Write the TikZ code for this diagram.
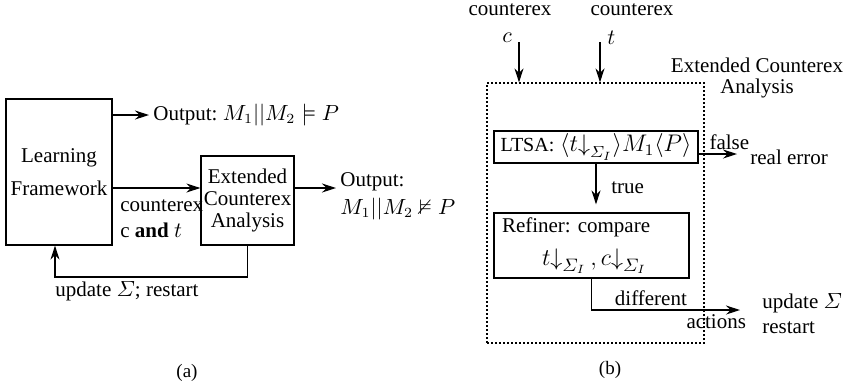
\documentclass[tikz,border=0pt]{standalone}
\usepackage{amsmath,amssymb}
\usepackage{fontspec}
\setmainfont{Liberation Serif}
\usepackage{tikz}
\usetikzlibrary{arrows.meta,positioning,calc}
\frenchspacing

\begin{document}
\begin{tikzpicture}[x=0.5pt, y=-0.5pt, font=\fontsize{10.5}{12.6}\selectfont,
    box/.style={draw, line width=0.6pt, inner sep=0pt, align=center},
    arr/.style={-{Stealth[length=7pt, width=4.5pt]}, line width=0.6pt},
    lbl/.style={inner sep=2pt}]
\useasboundingbox (0,0) rectangle (851,388);
% (a): learning loop

% Boxes
\node[box, minimum width=53pt, minimum height=73pt] (learn) at (59,172) {Learning\\[4pt]Framework};
\node[box, minimum width=46.5pt, minimum height=44.5pt, font=\fontsize{10.5}{10.8}\selectfont] (ext) at (247.5,200.5) {Extended\\Counterex\\Analysis};

% Outputs
\node[lbl, anchor=west] (outok) at (149,115) {Output: $M_1||M_2\models P$};
\draw[arr] (learn.east |- outok) -- (outok.west);
\coordinate (sendy) at ([yshift=6.25pt]ext.west);
\draw[arr] (learn.east |- sendy) -- (sendy);
\node[lbl, anchor=north west, align=left, font=\fontsize{10.5}{13}\selectfont] (cex) at (116,195) {counterex\\c \textbf{and} $t$};
\node[lbl, anchor=north west, align=left, font=\fontsize{10.5}{14}\selectfont] (outbad) at (336,168) {Output:\\$M_1||M_2\nvDash P$};
\draw[arr] ([yshift=6.25pt]ext.east) -- ([yshift=6.25pt]ext.east -| outbad.west);

% Feedback
\coordinate (back) at (55,277);
\draw[arr] (ext.south) |- (back) -- (back |- learn.south);
\node[lbl, anchor=north west] (upd) at ([xshift=-2pt]back) {update $\varSigma$; restart};

% (b): inside the extended analysis
\node[draw, line width=0.6pt, dash pattern=on 0.8pt off 1.2pt, minimum width=108.5pt, minimum height=130pt] (eca) at (595.5,213) {};
\node[align=center, font=\fontsize{10.5}{10.5}\selectfont] (ecaname) at (757,78) {Extended Counterex\\Analysis};

% Inputs
\node (cexc) at (510,10) {counterex};
\node (cext) at (632,10) {counterex};
\coordinate (cin) at (519,42);
\coordinate (tin) at (600,42);
\draw[arr] (cin) -- (cin |- eca.north) node[pos=0, anchor=east, yshift=2pt] {$c$};
\draw[arr] (tin) -- (tin |- eca.north) node[pos=0, anchor=west, yshift=2pt] {$t$};

% Checks
\node[box, minimum width=102pt, minimum height=16pt, font=\fontsize{11.8}{14}\selectfont] (ltsa) at (596,147) {{\fontsize{10}{12}\selectfont LTSA:} $\langle t{\downarrow}_{\varSigma_I}\rangle M_1\langle P\rangle$};
\node[box, minimum width=97.5pt, minimum height=32.5pt, text width=89.5pt, align=left] (refine) at (591.5,245.5) {Refiner: compare\\[4pt]\hspace*{20pt}{\fontsize{12.5}{14}\selectfont$t{\downarrow}_{\varSigma_I}\,, c{\downarrow}_{\varSigma_I}$}};

\coordinate (fend) at (737,154);
\draw[arr] (ltsa.east |- fend) -- (fend) node[pos=0.8, above, inner sep=2pt] {false};
\node[lbl, anchor=west] (realerr) at (746,157) {real error};
\draw[arr, shorten >=4pt] (ltsa.south) -- (ltsa.south |- refine.north) node[midway, right, xshift=4pt] {true};

% Result
\coordinate (dend) at (740,310);
\draw[arr] (refine.south) |- (dend) node[pos=0.7, above, inner sep=2pt] {different} node[pos=0.92, below, inner sep=2pt] {actions};
\node[lbl, anchor=west, align=left, font=\fontsize{10.5}{12.5}\selectfont] (upd2) at (758,314) {update $\varSigma$\\restart};

% Captions
\node[font=\fontsize{9.5}{11}\selectfont] (capa) at (187,373) {(a)};
\node[font=\fontsize{9.5}{11}\selectfont] (capb) at (610,370) {(b)};
\end{tikzpicture}
\end{document}
